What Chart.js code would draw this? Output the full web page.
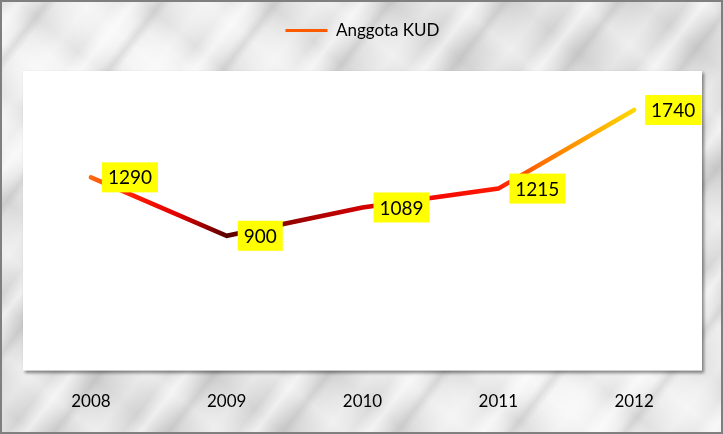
<!DOCTYPE html>
<html lang="id">
<head>
<meta charset="UTF-8">
<title>Anggota KUD</title>
<script src="https://cdn.jsdelivr.net/npm/chart.js"></script>
<style>
    html, body { margin: 0; padding: 0; }
    .frame {
        position: absolute;
        left: 0; top: 0;
        width: 723px; height: 434px;
        box-sizing: border-box;
        border: 2px solid #7f7f7f;
        background:
            repeating-linear-gradient(128deg, rgba(255,255,255,0) 0px, rgba(255,255,255,0.6) 14px, rgba(255,255,255,0) 28px, rgba(160,160,160,0.25) 36px, rgba(255,255,255,0) 44px, rgba(255,255,255,0.35) 70px, rgba(255,255,255,0) 90px),
            repeating-linear-gradient(40deg, rgba(190,190,190,0) 0px, rgba(170,170,170,0.22) 20px, rgba(190,190,190,0) 45px, rgba(255,255,255,0.3) 60px, rgba(190,190,190,0) 80px),
            radial-gradient(ellipse at 15% 20%, rgba(255,255,255,0.8), rgba(255,255,255,0) 40%),
            radial-gradient(ellipse at 80% 90%, rgba(255,255,255,0.7), rgba(255,255,255,0) 35%),
            #dcdcdc;
    }
    .wrap { position: absolute; left: 0; top: 0; width: 719px; height: 430px; }
</style>
</head>
<body>
<div class="frame">
    <div class="wrap"><canvas id="chart"></canvas></div>
</div>
<script>
    const years = ['2008', '2009', '2010', '2011', '2012'];
    const members = [1290, 900, 1089, 1215, 1740];
    const seriesName = 'Anggota KUD';

    // extra gap under the legend
    const legendGap = {
        id: 'legendGap',
        beforeInit(chart) {
            const fit = chart.legend.fit;
            chart.legend.fit = function () {
                fit.bind(chart.legend)();
                this.height += 22;
            };
        }
    };

    // white plot area with a soft shadow
    const plotBg = {
        id: 'plotBg',
        beforeDatasetsDraw(chart) {
            const a = chart.chartArea, c = chart.ctx;
            c.save();
            c.shadowColor = 'rgba(0,0,0,0.45)';
            c.shadowBlur = 3;
            c.shadowOffsetX = 2;
            c.shadowOffsetY = 2;
            c.fillStyle = '#fff';
            c.fillRect(a.left, a.top, a.right - a.left, a.bottom - a.top);
            c.restore();
        }
    };

    // yellow value boxes to the right of each point
    const valueBoxes = {
        id: 'valueBoxes',
        afterDatasetsDraw(chart) {
            const c = chart.ctx;
            const meta = chart.getDatasetMeta(0);
            c.save();
            c.font = '19px Lato, "Open Sans", sans-serif';
            c.textBaseline = 'middle';
            meta.data.forEach((pt, i) => {
                const txt = String(members[i]);
                const w = c.measureText(txt).width + 12;
                const h = 30;
                const x = pt.x + 11, y = pt.y - h / 2;
                c.fillStyle = '#ffff00';
                c.fillRect(x, y, w, h);
                c.fillStyle = '#000';
                c.fillText(txt, x + 6, pt.y + 1);
            });
            c.restore();
        }
    };

    function lineGradient(ctx) {
        const chart = ctx.chart;
        const a = chart.chartArea;
        if (!a) return '#ff0000';
        const xs = chart.scales.x;
        const x0 = xs.getPixelForValue(0), x4 = xs.getPixelForValue(4);
        const g = chart.ctx.createLinearGradient(x0, 0, x4, 0);
        g.addColorStop(0, '#ff6a10');
        g.addColorStop(0.08, '#ff1a00');
        g.addColorStop(0.16, '#e00000');
        g.addColorStop(0.25, '#5a0000');
        g.addColorStop(0.42, '#b00000');
        g.addColorStop(0.58, '#f00000');
        g.addColorStop(0.75, '#ff1a00');
        g.addColorStop(0.82, '#ff6a00');
        g.addColorStop(1, '#ffd800');
        return g;
    }

    new Chart(document.getElementById('chart'), {
        type: 'line',
        data: {
            labels: years,
            datasets: [{
                label: seriesName,
                data: members,
                borderColor: lineGradient,
                backgroundColor: '#ff5a00',
                borderWidth: 4.5,
                pointRadius: 0,
                tension: 0,
                borderCapStyle: 'round'
            }]
        },
        options: {
            responsive: true,
            maintainAspectRatio: false,
            animation: false,
            layout: { padding: { left: 21, right: 19, top: 4, bottom: 7 } },
            plugins: {
                legend: {
                    position: 'top',
                    labels: {
                        boxWidth: 42,
                        boxHeight: 3,
                        color: '#333',
                        font: { family: 'Lato, "Open Sans", sans-serif', size: 17 },
                        padding: 16,
                        generateLabels: () => [{
                            text: seriesName,
                            fillStyle: '#ff5a00',
                            strokeStyle: '#ff5a00',
                            lineWidth: 0
                        }]
                    }
                },
                tooltip: { enabled: false }
            },
            scales: {
                x: {
                    offset: true,
                    grid: { display: false },
                    border: { display: false },
                    ticks: {
                        color: '#000',
                        padding: 13,
                        font: { family: 'Lato, "Open Sans", sans-serif', size: 17 }
                    }
                },
                y: {
                    display: false,
                    min: 0,
                    max: 2000
                }
            }
        },
        plugins: [legendGap, plotBg, valueBoxes]
    });
</script>
</body>
</html>
